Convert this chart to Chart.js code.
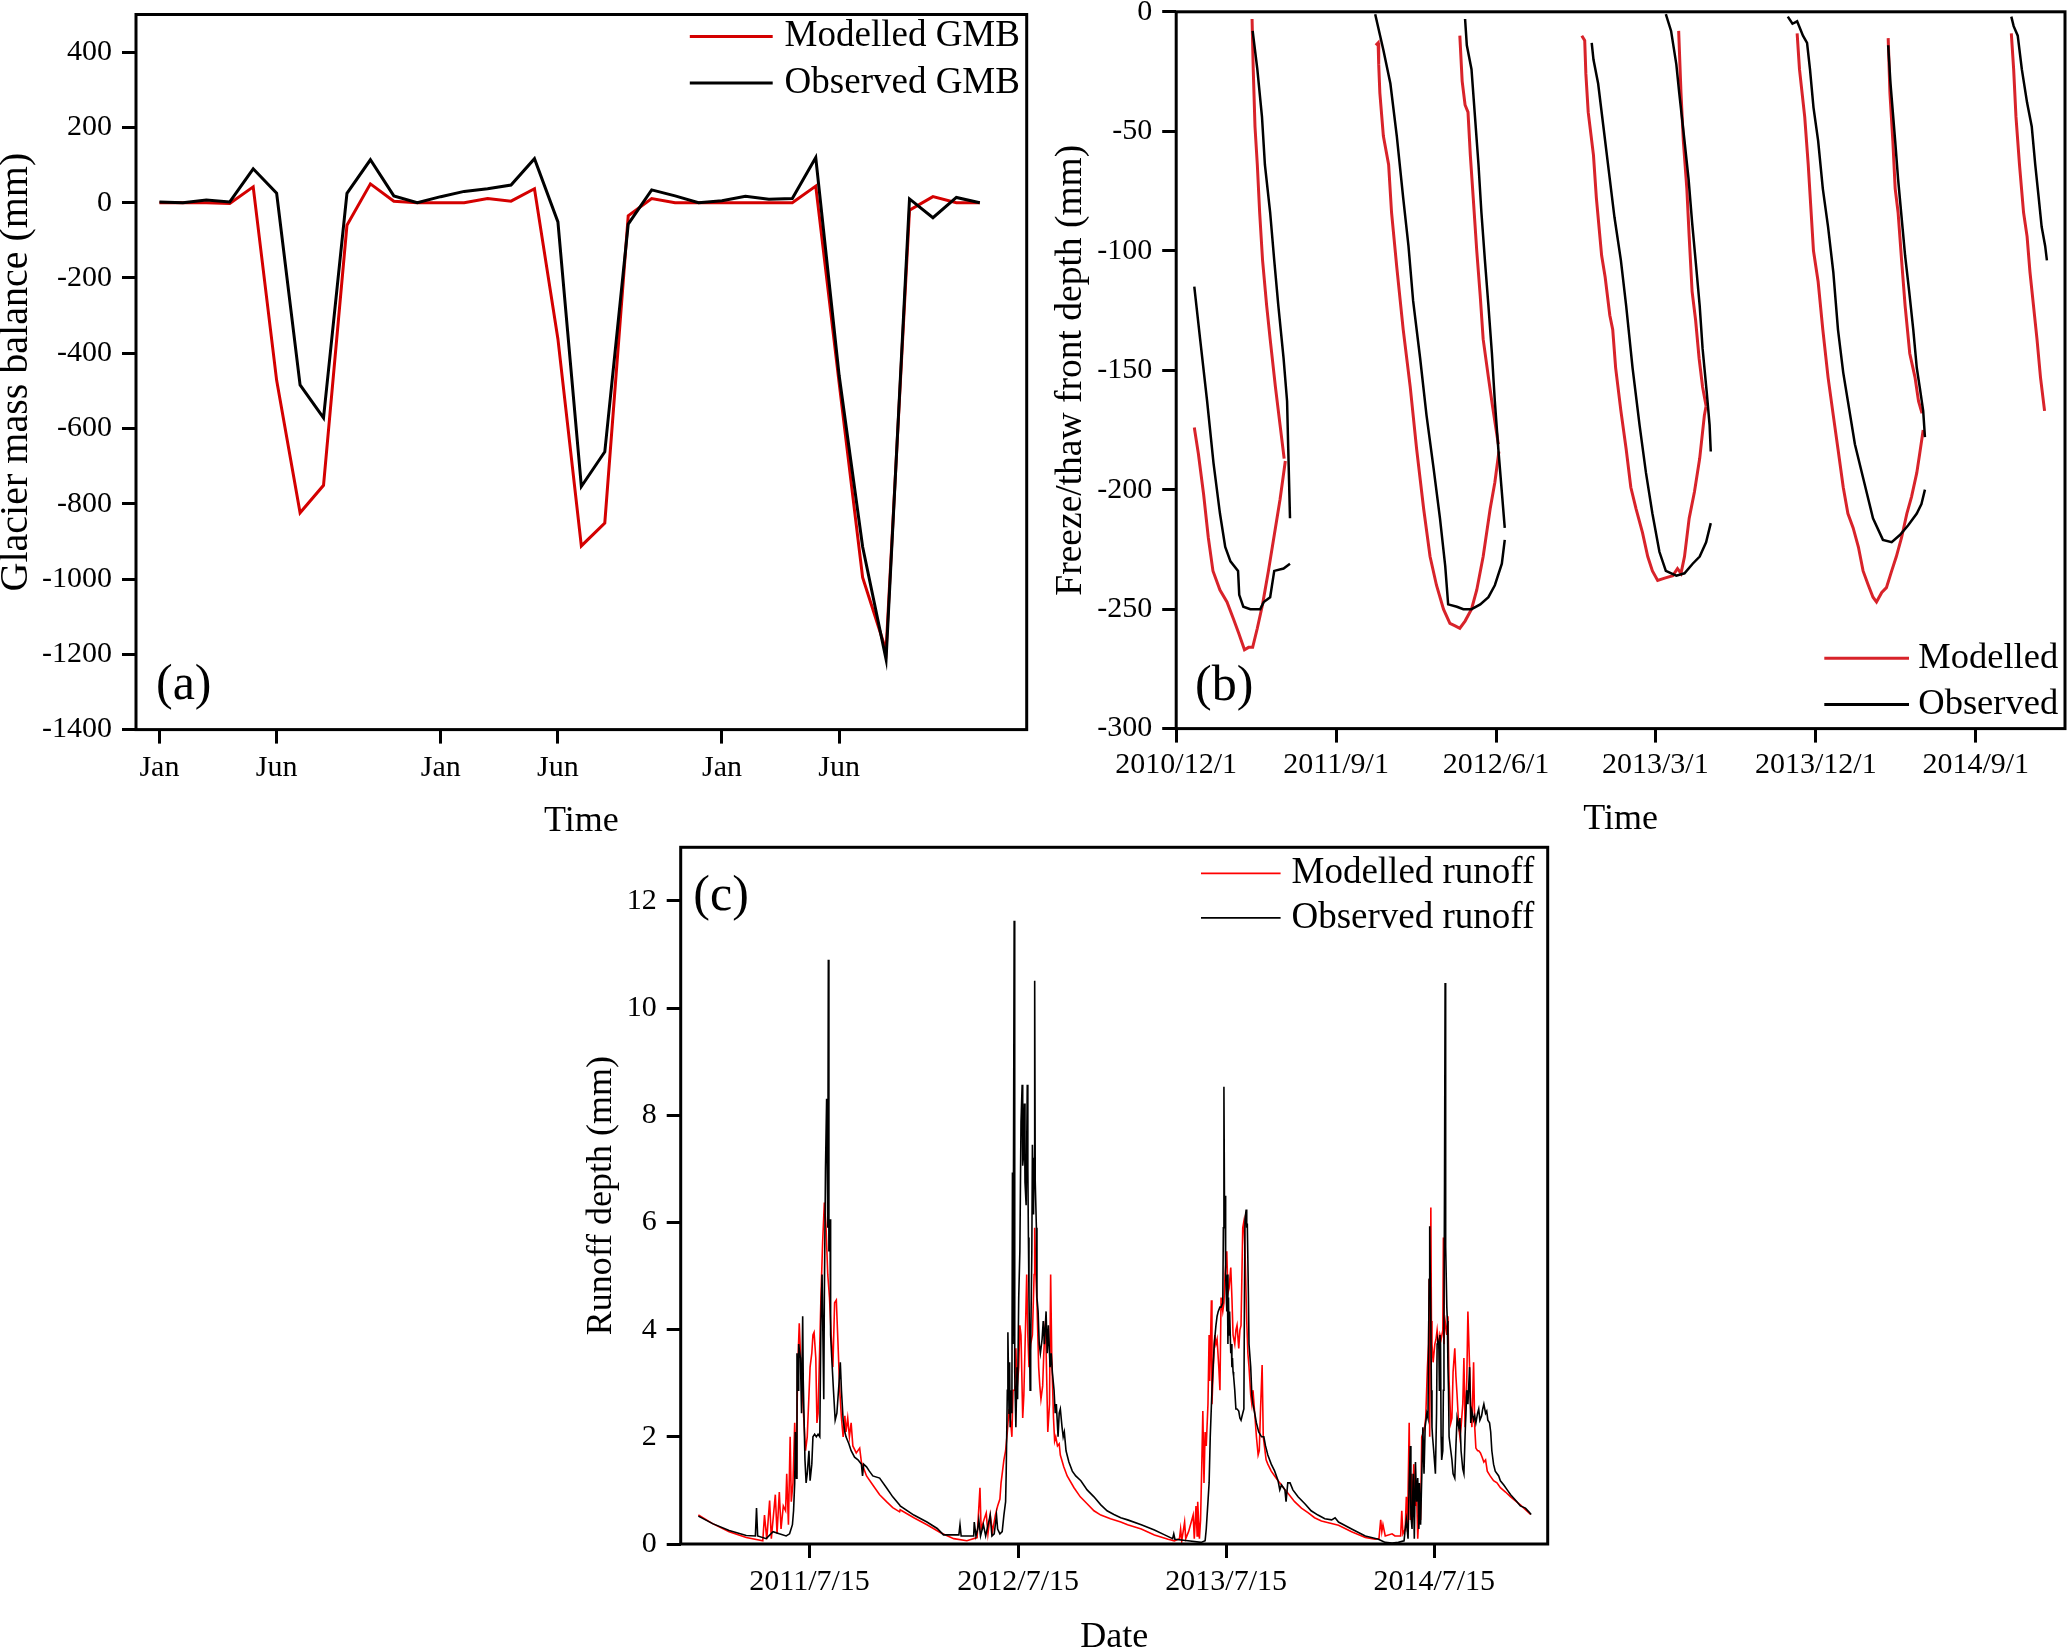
<!DOCTYPE html>
<html><head><meta charset="utf-8">
<script src="https://cdn.jsdelivr.net/npm/chart.js@4.4.1/dist/chart.umd.min.js"></script>
<style>
html,body{margin:0;padding:0;background:#fff;overflow:hidden;width:2067px;height:1650px;position:relative;}
canvas{position:absolute;}
</style></head><body>
<canvas id="ca" width="1100" height="900" style="left:-20px;top:-30px;width:1100px;height:900px"></canvas>
<canvas id="cb" width="1037" height="900" style="left:1030px;top:-30px;width:1037px;height:900px"></canvas>
<canvas id="cc" width="1100" height="900" style="left:540px;top:800px;width:1100px;height:900px"></canvas>
<script>
// ---------- (a) glacier mass balance, monthly ----------
const gmbMonths = [0,1,2,3,4,5,6,7,8,9,10,11,12,13,14,15,16,17,18,19,20,21,22,23,24,25,26,27,28,29,30,31,32,33,34,35];
const gmbModelled = [0,0,0,-2,42,-472,-824,-751,-60,50,4,0,0,0,11,4,37,-362,-912,-851,-35,11,0,0,0,0,0,0,44,-480,-996,-1190,-20,16,0,0];
const gmbObserved = [2,0,7,2,90,25,-484,-572,25,114,18,0,16,30,37,47,117,-51,-754,-662,-57,34,18,0,5,17,9,11,120,-460,-914,-1213,10,-40,14,0];
const gmbTickMonths = [0,5,12,17,24,29];
const gmbTickLabels = ['Jan','Jun','Jan','Jun','Jan','Jun'];
const gmbYTicks = [-1400,-1200,-1000,-800,-600,-400,-200,0,200,400];

// ---------- (b) freeze/thaw front depth (day since 2010/12/1, mm) ----------
const ftModelled = [
 [[31,-174],[38,-185],[47,-202],[55,-220],[63,-234],[75,-242],[87,-247],[98,-254],[107,-260],[117,-267],[124,-266],[131,-266],[139,-258],[148,-248],[158,-234],[170,-216],[178,-204],[187,-188]],
 [[130,-3],[132,-24],[135,-48],[139,-64],[143,-84],[148,-104],[155,-123],[161,-137],[170,-157],[178,-173],[185,-187]],
 [[342,-14],[346,-13],[347,-22],[349,-34],[355,-52],[364,-64],[369,-84],[378,-107],[389,-133],[401,-157],[412,-183],[424,-208],[435,-228],[446,-240],[458,-250],[469,-256],[478,-257],[486,-258],[495,-255],[506,-250],[515,-242],[526,-228],[538,-208],[546,-197],[553,-184]],
 [[486,-10],[490,-29],[495,-39],[500,-42],[504,-60],[509,-78],[515,-100],[521,-119],[526,-137],[535,-153],[542,-165],[552,-181]],
 [[695,-10],[700,-12],[702,-26],[706,-42],[715,-60],[720,-78],[729,-102],[735,-111],[743,-127],[748,-133],[753,-149],[762,-167],[771,-183],[779,-199],[788,-208],[799,-218],[808,-228],[816,-234],[825,-238],[837,-237],[851,-236],[859,-233],[865,-235],[871,-228],[879,-212],[888,-201],[897,-187],[905,-169],[908,-165]],
 [[861,-8],[865,-34],[869,-54],[875,-74],[879,-94],[884,-117],[890,-129],[896,-145],[902,-157],[908,-165]],
 [[1064,-9],[1068,-24],[1077,-44],[1083,-64],[1088,-84],[1092,-100],[1100,-113],[1108,-133],[1117,-153],[1126,-169],[1134,-183],[1143,-199],[1151,-210],[1160,-216],[1169,-224],[1177,-234],[1186,-240],[1194,-245],[1200,-247],[1209,-243],[1217,-241],[1226,-234],[1234,-228],[1243,-220],[1252,-210],[1260,-203],[1269,-193],[1274,-185],[1280,-175]],
 [[1220,-11],[1223,-34],[1228,-54],[1232,-74],[1237,-84],[1243,-104],[1249,-123],[1257,-143],[1266,-153],[1272,-163],[1278,-168]],
 [[1431,-9],[1435,-24],[1439,-44],[1445,-64],[1452,-84],[1458,-94],[1463,-109],[1469,-123],[1475,-137],[1481,-153],[1488,-167]]
];
const ftObserved = [
 [[31,-115],[41,-137],[53,-163],[64,-189],[75,-210],[84,-224],[93,-230],[106,-234],[108,-244],[115,-249],[127,-250],[144,-250],[150,-247],[161,-245],[168,-234],[184,-233],[195,-231]],
 [[131,-8],[139,-24],[147,-44],[152,-64],[161,-84],[168,-104],[175,-123],[184,-145],[190,-163],[192,-183],[195,-212]],
 [[341,-1],[355,-16],[367,-30],[378,-52],[389,-78],[398,-98],[406,-121],[418,-145],[429,-169],[441,-191],[452,-212],[461,-232],[466,-248],[481,-249],[492,-250],[506,-250],[521,-248],[535,-245],[546,-240],[558,-231],[563,-221]],
 [[495,-3],[498,-14],[506,-24],[512,-44],[518,-64],[523,-84],[529,-104],[535,-123],[541,-143],[546,-163],[552,-183],[558,-201],[563,-216]],
 [[712,-13],[715,-20],[723,-30],[732,-48],[743,-70],[751,-86],[762,-104],[771,-123],[782,-149],[794,-173],[805,-193],[816,-210],[828,-226],[839,-234],[857,-236],[871,-235],[885,-231],[897,-228],[908,-222],[916,-214]],
 [[839,-1],[848,-8],[857,-22],[862,-34],[871,-54],[878,-70],[884,-88],[890,-104],[897,-123],[902,-141],[909,-159],[914,-173],[916,-184]],
 [[1048,-2],[1056,-5],[1064,-4],[1074,-10],[1081,-13],[1086,-24],[1092,-40],[1100,-54],[1108,-74],[1117,-90],[1126,-109],[1134,-133],[1143,-151],[1151,-163],[1163,-181],[1177,-195],[1194,-212],[1211,-221],[1226,-222],[1240,-219],[1254,-215],[1269,-210],[1277,-206],[1283,-200]],
 [[1220,-14],[1224,-30],[1232,-54],[1237,-70],[1243,-86],[1249,-102],[1256,-117],[1263,-133],[1269,-149],[1274,-157],[1280,-167],[1283,-178]],
 [[1431,-2],[1435,-6],[1442,-10],[1449,-24],[1458,-38],[1466,-48],[1472,-64],[1478,-78],[1483,-90],[1489,-98],[1492,-104]]
];
const ftTickDays = [0,274,548,821,1096,1370];
const ftTickLabels = ['2010/12/1','2011/9/1','2012/6/1','2013/3/1','2013/12/1','2014/9/1'];
const ftYTicks = [-300,-250,-200,-150,-100,-50,0];

// ---------- (c) runoff depth (day since 2011/1/1, mm) ----------
const runoffModelled = [
 [0,0.54],[25,0.38],[54,0.23],[84,0.12],[113,0.06],[116,0.54],[120,0.09],[125,0.81],[128,0.10],[135,0.92],[138,0.19],[142,0.97],[145,0.28],[149,0.71],[153,0.62],[155,1.31],[158,0.36],[161,2.0],[163,0.79],[166,1.14],[169,2.26],[172,1.31],[174,3.2],[177,4.12],[180,3.3],[184,2.52],[188,1.74],[191,2.0],[194,2.78],[196,3.3],[199,3.56],[201,3.9],[203,3.95],[206,3.47],[208,2.26],[210,2.44],[213,3.73],[215,4.6],[218,5.63],[221,6.37],[224,5.9],[227,5.03],[230,4.6],[233,3.9],[236,3.3],[239,4.5],[242,4.55],[245,3.73],[248,2.87],[251,2.35],[254,2.0],[257,2.39],[259,2.09],[262,2.35],[265,2.0],[268,2.26],[271,1.83],[277,1.70],[283,1.79],[286,1.53],[295,1.27],[306,1.1],[318,0.92],[330,0.79],[341,0.68],[353,0.6],
 [354,0.64],[378,0.49],[401,0.36],[425,0.21],[448,0.10],[471,0.06],[489,0.12],[494,1.05],[496,0.28],[501,0.45],[505,0.58],[508,0.19],[512,0.54],[516,0.23],[521,0.54],[525,0.71],[529,0.84],[531,1.14],[533,1.31],[536,1.57],[539,1.74],[542,2.09],[545,2.52],[548,2.26],[550,2.0],[552,2.87],[555,2.87],[557,3.65],[559,2.87],[562,3.3],[564,4.08],[566,3.9],[569,2.35],[571,2.78],[574,4.08],[576,5.03],[578,3.9],[580,3.3],[583,3.73],[586,3.9],[589,5.03],[590,5.9],[592,5.03],[594,4.5],[597,3.3],[599,2.95],[601,2.7],[604,2.95],[606,3.56],[609,4.16],[611,3.13],[613,2.09],[616,2.61],[618,5.03],[620,3.47],[623,2.35],[625,1.92],[627,2.0],[630,1.83],[633,1.87],[635,1.66],[641,1.44],[647,1.27],[659,1.05],[670,0.88],[682,0.75],[694,0.62],[706,0.54],[723,0.47],[741,0.41],
 [753,0.36],[777,0.28],[800,0.17],[824,0.09],[835,0.06],[844,0.10],[846,0.28],[848,0.06],[853,0.41],[855,0.10],[860,0.23],[868,0.54],[870,0.10],[873,0.71],[875,0.15],[876,0.79],[879,0.10],[881,0.45],[883,1.4],[885,2.48],[887,1.14],[889,2.09],[891,1.83],[894,2.61],[896,3.9],[897,3.04],[900,4.55],[901,2.61],[903,3.21],[906,3.9],[908,3.73],[910,3.82],[913,3.3],[915,2.87],[917,4.6],[920,4.34],[922,4.5],[924,5.03],[927,5.46],[929,4.68],[931,4.77],[934,5.16],[936,4.6],[938,3.9],[941,3.73],[943,3.99],[945,4.08],[948,3.65],[950,3.99],[952,4.08],[955,5.9],[957,6.02],[959,5.46],[962,4.16],[964,3.56],[966,3.3],[969,2.78],[971,2.61],[973,2.87],[976,2.44],[979,2.0],[982,1.66],[984,1.74],[986,2.44],[989,3.34],[991,2.0],[993,1.83],[996,1.57],[999,1.49],[1005,1.36],[1011,1.27],[1017,1.18],[1023,1.1],[1029,1.01],[1034,0.95],[1046,0.79],[1058,0.67],[1070,0.58],[1081,0.49],[1093,0.43],
 [1123,0.35],[1146,0.23],[1170,0.12],[1187,0.09],[1194,0.10],[1197,0.45],[1199,0.23],[1201,0.36],[1205,0.15],[1217,0.19],[1222,0.15],[1232,0.15],[1234,0.62],[1236,0.19],[1240,0.28],[1242,0.88],[1244,0.23],[1247,2.26],[1249,0.45],[1251,1.31],[1253,0.62],[1255,1.49],[1258,0.71],[1260,0.97],[1262,0.10],[1265,0.79],[1267,0.45],[1269,2.0],[1272,2.09],[1274,2.18],[1276,2.35],[1279,3.3],[1281,3.73],[1282,4.94],[1283,2.0],[1285,6.28],[1286,4.16],[1287,3.73],[1289,3.39],[1292,3.73],[1294,3.82],[1296,3.99],[1299,3.65],[1301,3.9],[1303,3.82],[1306,3.99],[1307,5.72],[1308,3.73],[1309,4.08],[1310,4.16],[1313,3.9],[1315,4.25],[1317,3.04],[1320,2.26],[1322,2.35],[1324,3.21],[1327,3.65],[1329,3.13],[1331,2.78],[1334,2.18],[1336,2.0],[1338,2.18],[1341,2.61],[1343,3.47],[1345,2.18],[1348,3.04],[1350,4.34],[1353,3.3],[1355,2.52],[1357,2.18],[1360,3.39],[1362,2.18],[1364,1.79],[1367,1.74],[1369,1.74],[1372,1.70],[1375,1.62],[1378,1.53],[1381,1.57],[1384,1.36],[1389,1.27],[1395,1.18],[1401,1.14],[1407,1.05],[1416,0.97],[1425,0.88],[1433,0.81],[1442,0.73],[1451,0.64],[1460,0.55]
];
const runoffObserved = [
 [0,0.52],[25,0.38],[54,0.25],[84,0.16],[100,0.15],[102,0.67],[104,0.15],[119,0.10],[131,0.23],[142,0.19],[154,0.15],[160,0.19],[165,0.36],[167,0.62],[169,1.14],[170,2.09],[172,1.23],[173,3.56],[175,2.87],[176,3.73],[179,3.47],[181,2.44],[183,4.25],[184,3.04],[187,1.57],[189,1.14],[191,1.31],[194,1.74],[196,1.18],[199,1.49],[201,2.0],[204,2.05],[207,2.0],[210,2.05],[213,2.0],[215,4.16],[217,5.03],[220,2.7],[221,4.6],[223,7.01],[225,8.31],[227,5.9],[228,10.9],[229,5.46],[231,6.06],[232,3.9],[234,3.47],[237,2.87],[240,2.31],[243,2.44],[247,3.04],[249,3.39],[251,2.87],[254,2.31],[257,2.09],[259,2.0],[264,1.87],[268,1.74],[274,1.62],[280,1.57],[286,1.49],[288,1.27],[290,1.49],[295,1.44],[300,1.36],[306,1.27],[318,1.23],[330,1.05],[341,0.88],[353,0.73],
 [354,0.71],[378,0.54],[401,0.41],[419,0.29],[430,0.17],[457,0.17],[459,0.36],[461,0.15],[471,0.15],[483,0.15],[484,0.41],[487,0.15],[490,0.28],[492,0.45],[495,0.15],[500,0.36],[504,0.15],[512,0.54],[515,0.15],[519,0.19],[523,0.54],[525,0.28],[529,0.19],[533,0.23],[536,0.54],[539,0.79],[540,1.31],[542,2.87],[543,3.95],[545,2.44],[546,3.39],[547,2.18],[549,2.87],[550,2.44],[551,6.93],[552,3.73],[554,11.63],[555,3.21],[557,2.18],[559,3.3],[560,2.7],[562,4.6],[564,5.46],[566,7.88],[568,8.57],[569,7.06],[570,7.19],[572,8.22],[573,6.75],[575,6.32],[577,8.57],[578,7.01],[579,5.72],[580,4.6],[582,2.87],[583,3.73],[585,5.46],[586,7.45],[588,6.15],[589,7.19],[590,10.51],[591,6.75],[593,5.9],[594,4.6],[596,4.34],[598,3.73],[600,3.56],[603,3.82],[605,4.16],[607,3.73],[610,4.34],[612,3.56],[614,4.08],[617,3.3],[619,3.56],[621,3.21],[624,2.87],[626,2.44],[628,2.61],[631,2.0],[633,2.44],[635,2.52],[638,2.18],[640,2.0],[642,2.09],[645,1.74],[650,1.53],[656,1.36],[662,1.27],[671,1.18],[682,1.01],[694,0.88],[706,0.73],[717,0.62],[729,0.55],[741,0.49],
 [753,0.45],[777,0.36],[800,0.26],[818,0.17],[832,0.10],[834,0.19],[836,0.09],[859,0.06],[882,0.03],[889,0.06],[891,0.28],[894,0.79],[896,1.14],[898,2.0],[901,2.87],[903,3.3],[905,3.73],[908,4.08],[910,4.25],[912,4.34],[915,4.42],[917,4.42],[920,4.5],[921,5.9],[922,8.53],[923,6.32],[924,6.5],[925,5.03],[927,4.34],[928,5.03],[929,3.73],[930,4.6],[931,3.9],[932,4.34],[934,3.56],[935,3.73],[936,3.3],[937,3.47],[938,3.21],[939,3.13],[941,2.87],[943,2.52],[945,2.52],[948,2.48],[950,2.35],[952,2.31],[955,2.44],[957,2.52],[958,4.6],[959,6.06],[961,6.24],[962,5.9],[963,5.98],[965,4.6],[966,3.73],[969,3.3],[971,2.78],[973,2.61],[976,2.44],[979,2.26],[983,2.09],[988,2.0],[992,2.0],[995,1.83],[999,1.66],[1005,1.49],[1011,1.36],[1017,1.18],[1020,1.01],[1023,1.1],[1029,1.01],[1031,0.79],[1034,1.14],[1038,1.14],[1043,1.01],[1052,0.88],[1064,0.75],[1075,0.62],[1087,0.54],[1099,0.47],
 [1111,0.45],[1117,0.49],[1123,0.41],[1146,0.28],[1170,0.15],[1193,0.09],[1205,0.03],[1217,0.02],[1228,0.03],[1238,0.06],[1240,0.28],[1242,0.45],[1245,0.10],[1247,1.14],[1249,1.83],[1250,0.54],[1252,0.28],[1254,1.31],[1256,0.10],[1258,1.53],[1260,0.79],[1262,1.23],[1264,0.28],[1265,1.14],[1267,0.36],[1269,1.23],[1271,2.18],[1273,1.31],[1275,2.18],[1278,2.44],[1280,2.35],[1281,3.73],[1282,4.94],[1283,5.93],[1285,4.16],[1286,2.87],[1287,2.18],[1288,2.0],[1290,1.74],[1293,1.31],[1295,2.44],[1296,3.73],[1297,3.82],[1299,3.73],[1300,2.87],[1301,3.9],[1302,3.73],[1303,2.0],[1304,1.57],[1306,1.74],[1307,2.87],[1308,4.08],[1309,6.75],[1310,10.47],[1311,5.55],[1313,4.42],[1314,4.16],[1315,3.3],[1316,2.87],[1317,2.0],[1320,1.74],[1322,1.57],[1324,1.31],[1327,1.23],[1329,1.83],[1331,2.35],[1334,2.18],[1336,2.35],[1338,1.74],[1341,1.4],[1343,1.31],[1345,2.0],[1348,2.87],[1350,2.61],[1353,3.3],[1355,2.26],[1357,2.48],[1360,2.31],[1362,2.39],[1364,2.26],[1367,2.44],[1369,2.52],[1371,2.31],[1374,2.39],[1376,2.52],[1378,2.61],[1381,2.44],[1383,2.48],[1385,2.31],[1388,2.26],[1390,2.09],[1392,1.74],[1395,1.49],[1398,1.36],[1404,1.27],[1407,1.18],[1413,1.1],[1419,1.01],[1425,0.92],[1436,0.79],[1442,0.71],[1451,0.67],[1457,0.6],[1461,0.55]
];
const runoffTickDays = [195,561,926,1291];
const runoffTickLabels = ['2011/7/15','2012/7/15','2013/7/15','2014/7/15'];
const runoffYTicks = [0,2,4,6,8,10,12];

// ---------- helpers ----------
const FONT = "'Liberation Serif','Times New Roman',Times,serif";
Chart.defaults.font.family = FONT;
Chart.defaults.color = '#000';

const decorPlugin = {
  id: 'decor',
  afterDraw(chart, args, o) {
    const ctx = chart.ctx, a = chart.chartArea;
    ctx.save();
    ctx.strokeStyle = '#000'; ctx.lineWidth = 3;
    ctx.strokeRect(a.left, a.top, a.right - a.left, a.bottom - a.top);
    ctx.fillStyle = '#000'; ctx.textAlign = 'left'; ctx.textBaseline = 'middle';
    ctx.font = o.labelSize + 'px ' + FONT;
    ctx.fillText(o.label, a.left + o.labelDx, (o.labelFromTop ? a.top : a.bottom) + o.labelDy);
    ctx.font = o.legendSize + 'px ' + FONT;
    o.items.forEach((it, i) => {
      const y = (o.legendFromTop ? a.top : a.bottom) + o.rows[i];
      ctx.strokeStyle = it.color; ctx.lineWidth = o.legendLW;
      ctx.beginPath(); ctx.moveTo(a.right + o.lineX0, y); ctx.lineTo(a.right + o.lineX1, y); ctx.stroke();
      ctx.fillText(it.text, a.right + o.textX, y);
    });
    ctx.restore();
  }
};

function axis(cfg) {
  const s = {
    type: 'linear', min: cfg.min, max: cfg.max,
    afterBuildTicks: sc => { sc.ticks = cfg.ticks.map(v => ({value: v})); },
    ticks: {autoSkip: false, maxRotation: 0, minRotation: 0, padding: cfg.tickPad, color: '#000',
            font: {size: 30, family: FONT},
            callback: (v, i) => cfg.labels ? cfg.labels[i] : String(v)},
    grid: {display: true, drawOnChartArea: false, drawTicks: true, tickLength: 14, lineWidth: 3, color: '#000'},
    border: {display: false},
    title: {display: true, text: cfg.title, color: '#000', font: {size: cfg.titleSize || 36, family: FONT}, padding: cfg.titlePad}
  };
  if (cfg.width !== undefined) s.afterFit = sc => { sc.width = cfg.width; };
  if (cfg.height !== undefined) s.afterFit = sc => { sc.height = cfg.height; };
  return s;
}
function segData(segs) {
  const out = [];
  segs.forEach((seg, i) => {
    if (i) out.push({x: seg[0][0], y: null});
    seg.forEach(p => out.push({x: p[0], y: p[1]}));
  });
  return out;
}
const pairs = arr => arr.map(p => ({x: p[0], y: p[1]}));
const baseOpts = {responsive: false, animation: false, devicePixelRatio: 1, events: []};

// ---------- chart (a) ----------
new Chart(document.getElementById('ca'), {
  type: 'line',
  data: {datasets: [
    {label: 'Observed GMB', data: gmbMonths.map((m, i) => ({x: m, y: gmbObserved[i]})), borderColor: '#000', borderWidth: 3, pointRadius: 0, tension: 0},
    {label: 'Modelled GMB', data: gmbMonths.map((m, i) => ({x: m, y: gmbModelled[i]})), borderColor: '#d40000', borderWidth: 3, pointRadius: 0, tension: 0}
  ]},
  options: Object.assign({}, baseOpts, {
    layout: {padding: {left: 0, top: 44.5, right: 53.3, bottom: 26.4}},
    plugins: {legend: {display: false}, tooltip: {enabled: false},
      decor: {label: '(a)', labelSize: 50, labelDx: 20, labelDy: -43.6, labelFromTop: false,
        legendSize: 37, legendFromTop: true, rows: [21.9, 68.5], lineX0: -336.9, lineX1: -254, textX: -242.1, legendLW: 3,
        items: [{text: 'Modelled GMB', color: '#d40000'}, {text: 'Observed GMB', color: '#000'}]}},
    scales: {
      x: axis({min: -1, max: 37, ticks: gmbTickMonths, labels: gmbTickLabels, tickPad: 7, title: 'Time', titlePad: {top: 0, bottom: 0}, height: 114}),
      y: axis({min: -1400, max: 500, ticks: gmbYTicks, tickPad: 10, title: 'Glacier mass balance (mm)', titleSize: 40, titlePad: {top: 12.6, bottom: 0}, width: 156})
    }
  }),
  plugins: [decorPlugin]
});

// ---------- chart (b) ----------
new Chart(document.getElementById('cb'), {
  type: 'line',
  data: {datasets: [
    {label: 'Observed', data: segData(ftObserved), borderColor: '#000', borderWidth: 2.5, pointRadius: 0, tension: 0, spanGaps: false},
    {label: 'Modelled', data: segData(ftModelled), borderColor: '#d8232a', borderWidth: 3, pointRadius: 0, tension: 0, spanGaps: false}
  ]},
  options: Object.assign({}, baseOpts, {
    layout: {padding: {left: 0, top: 41.8, right: 2, bottom: 28.4}},
    plugins: {legend: {display: false}, tooltip: {enabled: false},
      decor: {label: '(b)', labelSize: 50, labelDx: 18.8, labelDy: -42, labelFromTop: false,
        legendSize: 36.5, legendFromTop: false, rows: [-70.3, -24], lineX0: -240.7, lineX1: -156, textX: -146.7, legendLW: 3,
        items: [{text: 'Modelled', color: '#d8232a'}, {text: 'Observed', color: '#000'}]}},
    scales: {
      x: axis({min: 0, max: 1523, ticks: ftTickDays, labels: ftTickLabels, tickPad: 5, title: 'Time', titlePad: {top: 0, bottom: 0.4}, height: 113}),
      y: axis({min: -300, max: 0, ticks: ftYTicks, tickPad: 10, title: 'Freeze/thaw front depth (mm)', titleSize: 37.5, titlePad: {top: 18.3, bottom: 0}, width: 146.2})
    }
  }),
  plugins: [decorPlugin]
});

// ---------- chart (c) ----------
new Chart(document.getElementById('cc'), {
  type: 'line',
  data: {datasets: [
    {label: 'Observed runoff', data: pairs(runoffObserved), borderColor: '#000', borderWidth: 1.6, pointRadius: 0, tension: 0},
    {label: 'Modelled runoff', data: pairs(runoffModelled), borderColor: '#ff0000', borderWidth: 1.6, pointRadius: 0, tension: 0}
  ]},
  options: Object.assign({}, baseOpts, {
    layout: {padding: {left: 0, top: 47.3, right: 92.3, bottom: 40}},
    plugins: {legend: {display: false}, tooltip: {enabled: false},
      decor: {label: '(c)', labelSize: 50, labelDx: 12.6, labelDy: 49.4, labelFromTop: true,
        legendSize: 37, legendFromTop: true, rows: [26.1, 70.6], lineX0: -346.7, lineX1: -267.1, textX: -256.2, legendLW: 1.8,
        items: [{text: 'Modelled runoff', color: '#ff0000'}, {text: 'Observed runoff', color: '#000'}]}},
    scales: {
      x: axis({min: -31, max: 1490, ticks: runoffTickDays, labels: runoffTickLabels, tickPad: 6, title: 'Date', titlePad: {top: 0, bottom: 0.4}, height: 116}),
      y: axis({min: 0, max: 13, ticks: runoffYTicks, tickPad: 10, title: 'Runoff depth (mm)', titlePad: {top: 39.9, bottom: 0}, width: 140.7})
    }
  }),
  plugins: [decorPlugin]
});
</script></body></html>
